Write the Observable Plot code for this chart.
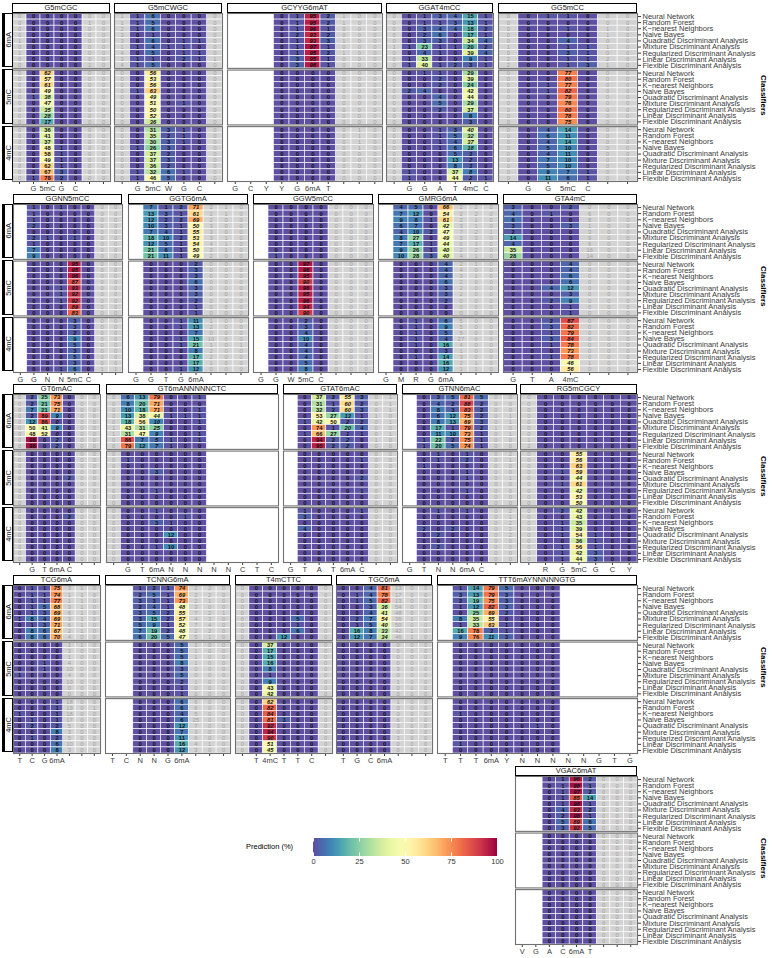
<!DOCTYPE html>
<html><head><meta charset="utf-8">
<script src="https://cdn.jsdelivr.net/npm/d3@7"></script>
<script src="https://cdn.jsdelivr.net/npm/@observablehq/plot@0.6"></script>
<style>
body{margin:0;background:#fff;font-family:"Liberation Sans",Arial,sans-serif;}
#root{position:relative;width:772px;height:958px;overflow:hidden;background:#fff;}
.strip{position:absolute;box-sizing:border-box;border:1.3px solid #000;background:#fff;font-size:7.5px;color:#1a1a1a;display:flex;align-items:center;justify-content:center;white-space:nowrap;}
.rstrip{position:absolute;box-sizing:border-box;border:1.3px solid #000;border-left-width:3px;background:#fff;font-size:7.5px;color:#1a1a1a;display:flex;align-items:center;justify-content:center;}
.rstrip span{writing-mode:vertical-rl;transform:rotate(180deg);}
.ctitle{position:absolute;writing-mode:vertical-rl;font-size:8px;font-weight:bold;color:#000;}
.ltitle{position:absolute;font-size:7.5px;color:#000;}
</style></head><body><div id="root"></div><script>
const classifiers = ["Neural Network","Random Forest","K\u2212nearest Neighbors","Naive Bayes","Quadratic Discriminant Analysis","Mixture Discriminant Analysis","Regularized Discriminant Analysis","Linear Discriminant Analysis","Flexible Discriminant Analysis"];
const mods = ["6mA","5mC","4mC"];
const Z = "0 0 0 0 0 0 0";

// values: 27 rows (6mA, 5mC, 4mC blocks x 9 classifiers), 7 window positions each
const G5mCGC = [
"0 0 0 0 0 0 0","0 0 0 0 0 1 0","0 0 0 0 0 0 0","0 0 0 0 0 0 0","1 0 0 0 0 0 0","0 0 0 0 0 0 0","1 0 0 0 0 0 0","0 0 0 0 0 0 0","0 0 0 0 0 1 0",
"0 0 62 0 0 0 0","0 0 57 0 0 0 0","0 0 61 0 0 0 0","0 0 49 0 0 0 0","0 1 38 0 0 0 0","0 0 47 0 0 0 0","0 0 35 0 0 0 0","0 0 28 0 0 0 0","0 0 17 0 0 0 0",
"0 0 36 0 0 0 0","0 0 41 0 0 0 0","0 0 37 0 0 0 0","0 0 48 1 0 0 0","0 0 58 1 0 0 0","0 0 49 1 0 0 0","0 0 62 1 0 0 0","0 0 67 3 0 0 0","0 1 78 2 0 0 0"];
const G5mCWGC = [
"1 1 6 0 0 0 0","1 1 5 0 0 0 0","2 1 6 0 0 0 0","3 0 1 0 0 0 0","3 0 6 0 1 1 0","1 1 4 1 1 0 0","4 0 5 0 1 1 0","3 1 1 0 2 1 1","4 1 5 0 0 0 0",
"0 0 56 0 0 0 0","0 0 53 0 0 0 0","0 0 56 0 0 0 0","0 1 63 0 0 0 0","0 0 49 0 0 0 0","0 0 51 0 1 0 0","0 0 50 0 0 0 0","0 0 52 0 0 0 0","0 0 36 0 0 0 0",
"0 0 31 3 1 0 0","0 0 35 2 1 0 0","0 0 30 3 1 0 0","0 1 26 3 0 0 0","0 0 37 2 0 0 0","0 0 37 3 0 0 0","0 0 36 2 0 0 0","0 1 32 6 1 0 0","0 1 46 5 0 0 0"];
const GCYYG6mAT = [
"0 1 95 2 1 0 0","0 1 95 2 1 0 0","0 1 96 1 0 0 0","0 2 93 2 0 0 0","0 1 93 3 1 0 0","0 1 97 1 0 0 0","0 1 95 2 1 0 0","0 3 95 1 0 0 0","0 3 96 1 0 0 0",
Z,Z,Z,Z,Z,Z,Z,Z,Z,
"0 0 0 0 0 1 0","0 0 0 0 0 1 0","0 0 0 0 0 1 0","0 0 0 0 0 1 0",Z,Z,Z,Z,Z];
const GGAT4mCC = [
"0 0 1 3 4 15 1","0 0 1 1 3 13 1","0 0 3 4 4 18 2","0 0 2 6 0 17 1","0 0 3 3 0 34 4","1 1 23 1 1 20 2","0 0 4 1 0 39 4","0 1 33 0 0 9 1","0 1 40 1 2 3 1",
"0 0 1 1 0 29 0","0 0 0 2 0 39 0","0 0 0 2 0 24 0","0 2 4 0 0 42 0","0 0 0 4 0 44 0","0 0 0 5 0 29 0","0 0 0 2 0 37 0","0 0 0 0 0 8 0","0 0 0 0 0 3 0",
"0 0 0 1 3 40 0","0 0 0 1 5 32 0","0 0 0 1 4 37 0","0 0 0 1 6 18 0","0 0 0 0 5 3 0","0 0 0 0 13 2 0","0 0 0 0 8 3 0","0 1 0 0 37 8 0","0 1 0 0 44 2 1"];
const GG5mCC = [
"0 0 1 1 0 0 0","0 0 0 0 0 0 0","0 0 0 1 0 1 0","0 0 0 0 0 1 0","0 0 0 4 0 0 0","1 0 0 1 1 1 0","0 0 0 3 1 0 0","2 0 0 1 1 2 0","2 0 0 1 3 1 0",
"0 0 0 77 0 0 0","0 0 0 80 0 0 0","0 0 1 77 0 0 0","0 0 1 82 0 0 0","0 0 0 79 0 0 0","0 0 0 76 0 0 0","0 0 0 80 0 0 0","0 0 0 78 0 0 0","0 0 0 75 0 0 0",
"0 0 4 14 0 0 0","0 0 6 11 0 0 0","0 0 4 14 0 0 0","0 0 5 10 0 0 0","0 0 4 11 0 0 0","0 0 7 10 0 0 0","0 0 5 10 0 0 0","0 0 9 7 1 0 0","0 0 11 6 1 0 0"];
const GGNN5mCC = [
"1 0 1 0 0 0 0","1 0 0 0 0 0 0","1 0 0 0 0 0 0","2 0 0 0 0 0 0","0 0 0 0 0 0 0","2 1 0 1 0 0 0","1 0 0 0 0 0 0","7 0 0 0 0 0 0","9 0 0 0 0 0 0",
"0 0 0 95 0 0 0","0 0 0 95 0 0 0","0 0 0 96 0 0 0","0 0 0 87 0 0 0","0 0 1 93 0 0 0","0 0 1 92 0 0 0","0 0 1 92 0 0 0","0 0 0 89 0 0 0","0 0 0 83 0 0 0",
"0 0 0 3 0 0 0","0 0 0 3 0 0 0","0 0 0 2 0 0 0","0 0 0 9 0 0 0","0 0 0 5 0 0 0","0 0 0 3 0 0 0","0 0 0 5 0 0 0","0 0 0 3 0 0 0","0 0 1 6 0 1 1"];
const GGTG6mA = [
"7 1 2 71 2 1 0","13 3 1 61 2 1 0","12 2 2 69 2 0 0","10 3 1 50 3 0 0","7 4 1 55 3 0 0","18 10 2 53 3 1 0","12 5 1 54 4 1 0","21 6 1 50 2 1 0","21 11 1 49 2 0 0",
"0 0 0 2 0 0 0","0 0 0 3 0 0 0","0 0 0 3 0 0 0","0 0 0 6 0 0 0","0 0 0 3 0 0 0","0 0 0 3 0 0 0","0 0 0 2 0 0 0","0 0 0 1 0 0 0","0 0 0 1 0 0 0",
"0 0 1 11 1 0 0","0 0 1 13 2 0 0","0 0 0 7 0 0 0","0 0 1 15 10 0 0","0 0 1 21 1 0 1","0 0 0 8 2 0 0","0 0 0 17 2 0 0","0 0 0 17 1 0 0","0 0 1 12 0 0 0"];
const GGW5mCC = [
Z,Z,Z,Z,Z,Z,Z,Z,"1 0 0 0 0 0 0",
"0 0 97 0 0 0 0","0 0 96 0 0 0 0","0 0 95 0 0 0 0","0 0 90 0 0 0 0","0 0 96 0 0 0 0","0 0 95 0 0 0 0","0 0 96 0 0 0 0","0 0 94 0 0 0 0","0 0 90 0 0 0 0",
"0 0 2 0 0 0 0","0 0 3 0 0 0 0","0 0 4 0 0 0 0","0 0 10 0 0 0 0","0 0 4 0 0 0 0","0 0 4 0 0 0 0","0 0 4 0 0 0 0","0 0 5 0 0 0 0","0 0 8 0 0 0 0"];
const GMRG6mA = [
"4 5 0 66 2 2 0","7 12 0 54 2 2 0","9 8 1 61 2 1 0","6 7 0 42 3 1 0","4 10 2 47 7 2 1","8 27 0 49 3 3 0","7 17 1 44 6 3 0","9 26 1 40 2 2 0","10 28 3 40 4 1 0",
"0 0 0 4 2 1 0","0 0 0 4 4 0 0","0 0 0 4 3 1 0","0 0 0 6 2 0 0","0 0 0 3 2 0 0","0 0 0 3 2 0 0","0 0 0 2 0 0 0","0 0 0 0 0 0 0","0 0 0 0 0 0 0",
"0 1 0 6 5 0 0","0 1 0 9 5 0 0","0 1 0 5 5 0 0","0 1 0 4 27 0 0","0 1 0 16 4 0 0","0 0 0 3 1 0 0","0 1 0 14 3 0 0","0 0 0 16 2 1 0","0 0 0 12 1 1 0"];
const GTA4mC = [
"3 0 0 2 0 0 0","4 0 1 0 6 0 0","6 0 0 0 8 0 0","3 0 0 3 1 0 0","2 0 0 0 3 0 0","14 0 0 0 9 0 0","4 0 0 0 6 0 0","35 0 0 0 16 0 0","28 0 0 0 14 0 0",
"0 0 0 4 0 0 0","0 0 0 4 0 0 0","0 0 0 6 0 0 0","0 0 0 6 0 0 0","0 0 4 12 0 0 0","0 0 0 3 0 0 0","0 0 2 9 0 0 0","0 0 0 1 0 0 0","0 0 0 1 0 0 0",
"0 0 2 87 0 0 0","0 0 3 82 0 0 0","0 0 1 79 0 0 0","0 0 3 84 0 0 0","0 0 1 78 0 0 0","0 0 0 73 0 0 0","0 0 1 78 0 0 0","0 0 0 46 1 0 0","0 0 0 56 0 0 0"];
const GT6mAC = [
"0 2 25 73 0 0 0","0 2 21 75 0 0 0","0 7 21 71 0 0 0","0 2 89 9 0 0 0","0 12 86 0 0 0 0","0 50 41 9 0 0 0","0 48 52 0 0 0 0","0 98 0 2 0 0 0","0 98 0 2 0 0 0",
Z,Z,Z,Z,"0 0 0 0 2 0 0",Z,Z,Z,Z,
Z,"0 0 0 0 2 0 0",Z,Z,Z,Z,Z,Z,Z];
const GT6mANNNNNCTC = [
"0 6 13 79 0 0 1","0 8 20 71 0 0 0","0 10 18 71 0 0 1","0 13 38 44 1 1 1","0 18 56 10 0 0 1","1 43 31 25 0 0 0","1 31 47 9 0 0 1","0 86 7 5 1 0 1","0 79 12 7 1 0 0",
Z,"0 1 0 0 0 0 0",Z,"0 0 0 3 0 0 0",Z,Z,"0 0 0 1 0 0 0",Z,Z,
"0 0 0 1 0 0 0","0 0 0 0 0 1 0","0 0 0 3 1 0 0",Z,"0 0 0 0 12 0 0",Z,"0 0 0 1 10 0 0",Z,Z];
const GTAT6mAC = [
"0 37 2 55 3 0 1","0 31 1 60 2 0 1","0 32 2 60 3 0 1","0 53 27 13 1 1 0","1 42 50 2 2 0 1","0 74 1 20 4 0 0","1 66 27 1 1 0 1","0 94 2 2 0 1 0","0 95 2 2 0 0 0",
Z,"0 0 0 0 1 0 0",Z,Z,"0 0 0 0 2 0 0",Z,"0 0 0 0 1 0 0",Z,Z,
"1 0 0 0 1 0 0","3 0 0 0 0 0 0",Z,"4 0 0 0 0 0 0",Z,Z,Z,Z,Z];
const GTNN6mAC = [
"0 3 5 81 5 0 0","0 4 2 88 2 0 0","0 8 3 83 2 0 0","0 6 12 75 2 0 1","0 8 13 69 3 0 1","0 17 1 79 2 1 0","0 11 10 73 1 0 1","1 22 2 75 1 0 0","1 20 5 74 1 0 0",
"0 1 0 1 0 0 2","0 1 0 2 0 0 1","1 0 0 0 0 0 0","0 0 0 1 0 0 0","0 0 0 1 0 0 1",Z,"0 0 0 1 0 0 0",Z,Z,
"0 1 0 1 0 0 2","0 0 0 0 0 0 1","0 0 0 0 0 0 2","2 0 2 0 0 0 2","0 2 0 0 0 0 2",Z,"0 2 0 0 0 0 0",Z,Z];
const RG5mCGCY = [
Z,Z,Z,Z,Z,Z,Z,"1 0 0 0 0 0 0","2 0 0 0 0 0 0",
"0 0 0 55 0 0 0","0 0 0 56 0 0 0","0 0 0 63 0 0 0","0 0 1 59 0 0 0","0 0 0 44 0 0 0","0 0 1 61 0 0 0","0 0 0 42 0 0 0","0 0 0 53 0 0 0","0 0 0 50 0 0 0",
"0 0 2 42 0 0 0","0 0 0 43 0 0 0","0 0 1 35 0 0 0","0 0 1 39 0 0 0","0 0 1 54 1 0 0","0 0 0 36 1 0 0","0 0 1 56 1 0 0","0 0 1 42 3 0 0","0 0 1 44 3 0 0"];
const TCG6mA = [
"0 1 1 75 3 1 0","0 1 1 74 1 1 0","0 1 1 77 1 1 0","0 1 5 68 3 1 0","0 1 3 69 6 1 0","1 8 4 69 3 1 0","0 1 3 71 6 1 0","0 8 6 67 2 1 0","0 8 6 70 4 0 0",
"0 0 0 0 1 1 0","0 0 0 0 3 0 0","0 0 0 0 1 0 0","0 0 1 0 4 0 0","0 0 1 0 10 0 0","1 0 0 0 4 0 0","0 0 0 0 10 0 0",Z,Z,
"0 0 0 1 18 0 0","0 0 0 1 19 0 1","1 0 0 1 18 0 0","0 1 0 1 17 0 0","0 2 0 2 5 0 0","0 0 0 8 3 0 0","0 1 0 2 5 0 0","0 0 0 6 10 0 0","0 0 0 8 3 0 0"];
const TCNNG6mA = [
"1 2 1 74 2 2 0","2 5 1 69 2 2 0","3 3 1 73 2 1 0","2 4 1 48 3 0 0","3 5 2 55 7 2 1","3 15 2 57 4 3 0","5 9 1 52 7 4 0","7 19 2 48 2 2 0","6 20 5 47 5 1 0",
"0 0 0 5 1 0 0","0 0 0 5 1 0 0","0 0 0 5 1 0 0","0 0 0 8 1 0 0","0 0 0 3 0 0 0","0 0 0 5 0 0 0","0 0 0 2 1 0 0","0 0 0 1 0 0 0","0 0 0 1 0 0 0",
"0 0 0 6 6 0 0","0 0 0 6 6 0 0","0 0 0 4 5 0 0","0 0 0 6 25 0 0","0 0 0 12 7 0 0","0 0 0 7 3 0 0","0 0 0 11 6 0 0","0 0 0 16 4 1 0","0 0 0 12 3 0 0"];
const T4mCTTC = [
Z,Z,Z,Z,Z,"0 0 0 0 5 0 0","0 0 0 0 1 0 0","0 0 0 0 6 0 0","0 0 0 12 0 0 0",
"0 0 37 0 0 0 0","0 0 17 0 0 0 0","0 0 15 0 0 0 0","0 0 16 0 0 0 0","0 0 8 0 0 0 0","0 0 1 0 0 0 0","0 0 9 0 0 0 0","0 0 43 0 0 0 0","0 0 42 0 0 0 0",
"0 0 62 0 0 0 0","0 0 82 0 0 0 0","0 0 84 0 0 0 0","0 0 81 3 0 0 0","0 0 92 0 0 0 0","0 0 94 0 0 0 0","0 0 90 0 0 0 0","0 0 51 0 0 0 0","0 0 45 0 0 0 0"];
const TGC6mA = [
"0 0 4 81 13 0 0","0 1 4 78 17 0 0","0 1 5 82 13 0 0","0 0 3 36 54 0 0","0 0 4 41 48 0 0","0 2 7 54 36 1 0","0 1 5 40 50 0 0","0 16 8 33 42 1 0","0 12 7 34 46 1 0",
Z,Z,Z,Z,"0 0 0 0 3 0 0",Z,"0 0 0 0 1 0 0",Z,Z,
"0 0 0 0 1 0 0",Z,Z,"0 0 0 0 6 0 0","0 0 0 0 3 0 0",Z,"0 0 0 0 3 0 0",Z,Z];
const TTT6mAYNNNNNGTG = [
"1 14 79 5 0 0 0","3 13 79 3 0 0 0","2 19 75 3 0 0 0","1 12 82 3 0 0 0","0 25 69 2 0 0 0","8 35 55 0 0 0 0","1 33 63 1 0 0 0","16 78 3 1 0 0 0","9 76 11 3 0 0 0",
Z,Z,Z,Z,Z,Z,Z,Z,Z,
Z,Z,"1 0 0 0 0 0 0",Z,"0 0 0 0 0 1 0",Z,Z,"1 0 0 0 0 0 0",Z];
const VGAC6mAT = [
"0 1 96 2 0 0 0","0 1 98 1 0 0 0","0 1 97 2 0 0 0","0 1 85 14 0 0 0","0 1 98 1 0 0 0","0 4 93 2 0 0 0","0 2 98 1 0 0 0","0 5 89 6 0 0 0","0 3 92 5 0 0 0",
Z,Z,Z,Z,Z,Z,Z,Z,Z,
Z,Z,Z,Z,Z,Z,Z,Z,Z];

const panelNames = ["G5mCGC","G5mCWGC","GCYYG6mAT","GGAT4mCC","GG5mCC","GGNN5mCC","GGTG6mA","GGW5mCC","GMRG6mA","GTA4mC","GT6mAC","GT6mANNNNNCTC","GTAT6mAC","GTNN6mAC","RG5mCGCY","TCG6mA","TCNNG6mA","T4mCTTC","TGC6mA","TTT6mAYNNNNNGTG","VGAC6mAT"];
const panelValues = [G5mCGC,G5mCWGC,GCYYG6mAT,GGAT4mCC,GG5mCC,GGNN5mCC,GGTG6mA,GGW5mCC,GMRG6mA,GTA4mC,GT6mAC,GT6mANNNNNCTC,GTAT6mAC,GTNN6mAC,RG5mCGCY,TCG6mA,TCNNG6mA,T4mCTTC,TGC6mA,TTT6mAYNNNNNGTG,VGAC6mAT];
// x tick labels per panel ("" = position outside the motif)
const tickLabels = [
["","G","5mC","G","C","",""],
["","G","5mC","W","G","C",""],
["G","C","Y","Y","G","6mA","T","","",""],
["","G","G","A","T","4mC","C"],
["","G","G","5mC","C","",""],
["G","G","N","N","5mC","C","",""],
["G","G","T","G","6mA","","",""],
["G","G","W","5mC","C","","",""],
["G","M","R","G","6mA","","",""],
["G","T","A","4mC","","",""],
["","G","T","6mA","C","",""],
["","G","T","6mA","N","N","N","N","N","C","T","C"],
["G","T","A","T","6mA","C","",""],
["G","T","N","N","6mA","C","",""],
["","R","G","5mC","G","C","Y"],
["T","C","G","6mA","","",""],
["T","C","N","N","G","6mA","","",""],
["","T","4mC","T","T","C",""],
["T","G","C","6mA","","",""],
["T","T","T","6mA","Y","N","N","N","N","N","G","T","G"],
["V","G","A","C","6mA","T","","",""]];
// index of the first measured position in each panel
const dataStart = [0,0,3,0,0, 1,1,1,1,0, 0,0,1,1,0, 0,2,0,0,1, 2];

// ---- layout (row, left, right) ----
const layout = [
[0,12,110],[0,114,222],[0,227,382],[0,386,493],[0,498,637],
[1,13,122],[1,128,248],[1,253,373],[1,378,498],[1,503,637],
[2,13,100],[2,106,278],[2,283,397],[2,402,517],[2,520,637],
[3,13,100],[3,105,230],[3,235,332],[3,336,432],[3,437,637],
[4,515,637]];
const rowTop = [3,194,384,575,766];
const STRIP_H = 9.5, BODY_H = 168, PADI = 0.03;
const FONT = '"Liberation Sans", Arial, sans-serif';
const colorScale = {type:"linear", scheme:"spectral", reverse:true, domain:[0,100]};
const root = document.getElementById("root");

function addDiv(cls, x, y, w, h, html) {
  const d = document.createElement("div");
  d.className = cls;
  Object.assign(d.style, {left:x+"px", top:y+"px"});
  if (w != null) d.style.width = w + "px";
  if (h != null) d.style.height = h + "px";
  d.innerHTML = html;
  root.append(d);
  return d;
}

const step = BODY_H / (3 - PADI), band = step * (1 - PADI);

panelNames.forEach((name, i) => {
  const labels = tickLabels[i], start = dataStart[i], vals = panelValues[i];
  const [row, x0, x1] = layout[i];
  const showY = x1 >= 636;
  const n = labels.length;
  const cells = [];
  vals.forEach((s, r) => {
    const mod = mods[Math.floor(r / 9)], cls = classifiers[r % 9];
    s.trim().split(/\s+/).forEach((t, j) => {
      const col = start + j;
      const lab = labels[col];
      cells.push({mod, cls, col, v: +t, motif: lab !== "", key: lab === mod});
    });
  });
  const grey = cells.filter(d => !d.motif);
  const colored = cells.filter(d => d.motif);
  const mT = 1, mB = 16, mL = 1, mR = showY ? 132 : 1;
  const bodyTop = rowTop[row] + STRIP_H;
  const common = {x:"col", y:"cls", fy:"mod"};
  const svg = Plot.plot({
    width: (x1 - x0) + mL + mR,
    height: BODY_H + mT + mB,
    marginTop: mT, marginBottom: mB, marginLeft: mL, marginRight: mR,
    style: {fontFamily: FONT, fontSize: "7.5px", color: "#3a3a3a", background: "transparent", overflow: "visible"},
    x: {type:"band", domain: d3.range(n), padding: 0, round: false, tickFormat: k => labels[k], tickSize: 3, tickPadding: 1.5, label: null},
    y: {type:"band", domain: classifiers, padding: 0, round: false, axis: showY ? "right" : null, tickSize: 3, tickPadding: 2, label: null},
    fy: {domain: mods, paddingInner: PADI, paddingOuter: 0, round: false, axis: null, label: null},
    color: colorScale,
    marks: [
      Plot.cell(grey, {...common, fill: "#d3d3d3", stroke: "white", strokeWidth: 0.6}),
      Plot.cell(colored, {...common, fill: "v", stroke: "white", strokeWidth: 0.6}),
      Plot.text(grey, {...common, text: "v", fill: "#a2a2a2", fontSize: 5.8}),
      Plot.text(colored.filter(d => !d.key), {...common, text: "v", fill: "#111", fontSize: 5.8, fontWeight: "bold"}),
      Plot.text(colored.filter(d => d.key), {...common, text: "v", fill: "#111", fontSize: 5.8, fontWeight: "bold", fontStyle: "italic"}),
      Plot.frame({stroke: "#707070", strokeWidth: 1.1})
    ]
  });
  Object.assign(svg.style, {position:"absolute", left:(x0 - mL)+"px", top:(bodyTop - mT)+"px"});
  root.append(svg);
  addDiv("strip", x0, rowTop[row], x1 - x0, STRIP_H, name);
  if (x0 < 20) {
    mods.forEach((m, k) => addDiv("rstrip", 1.5, bodyTop + k*step, 11, band, "<span>"+m+"</span>"));
  }
  if (showY) {
    addDiv("ctitle", 759, bodyTop + BODY_H/2 - 22, null, null, "Classifiers");
  }
});

// legend
addDiv("ltitle", 246, 842, null, null, "Prediction (%)");
const leg = Plot.legend({
  color: colorScale,
  width: 200, height: 34, marginLeft: 8, marginRight: 8, marginTop: 0, marginBottom: 16,
  tickSize: 0, ticks: [0,25,50,75,100], label: null,
  style: {fontFamily: FONT, fontSize: "7.5px", color: "#333", background: "transparent"}
});
// ggplot-style short white ticks at the top and bottom edges of the bar
leg.querySelectorAll(".tick line").forEach(l => {
  l.setAttribute("stroke", "white");
  l.setAttribute("y1", "-3.6"); l.setAttribute("y2", "0");
  const t = l.cloneNode();
  t.setAttribute("y1", "-18"); t.setAttribute("y2", "-14.4");
  l.parentNode.insertBefore(t, l);
});
Object.assign(leg.style, {position:"absolute", left:"305px", top:"838px"});
root.append(leg);
</script></body></html>
